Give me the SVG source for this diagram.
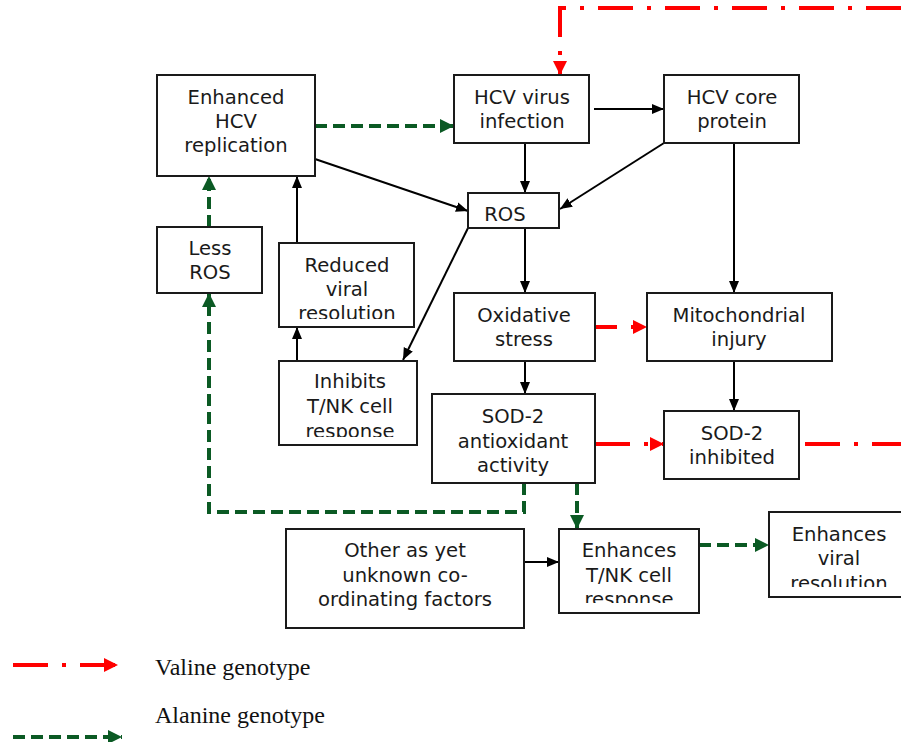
<svg xmlns="http://www.w3.org/2000/svg" width="901" height="742" viewBox="0 0 901 742">
<style>
.box{fill:#fff;stroke:#1a1a1a;stroke-width:2}
.t{font-family:"DejaVu Sans",Verdana,sans-serif;font-size:19.6px;fill:#1a1a1a;text-anchor:middle}
.lg{font-family:"Liberation Serif","Times New Roman",serif;font-size:24px;fill:#111}
.blk{stroke:#000;stroke-width:2;fill:none}
.red{stroke:#ff0000;stroke-width:4;fill:none;stroke-dasharray:35 14 4 14}
.grn{stroke:#0b5a24;stroke-width:4;fill:none;stroke-dasharray:12 6}
</style>
<defs>
<marker id="ab" markerUnits="userSpaceOnUse" markerWidth="12" markerHeight="12" refX="12" refY="6" orient="auto"><path d="M0,1 L12,6 L0,11 z" fill="#000"/></marker>
<marker id="ar" markerUnits="userSpaceOnUse" markerWidth="14" markerHeight="14" refX="14" refY="7" orient="auto"><path d="M0,0 L14,7 L0,14 z" fill="#ff0000"/></marker>
<marker id="ag" markerUnits="userSpaceOnUse" markerWidth="14" markerHeight="14" refX="14" refY="7" orient="auto"><path d="M0,0 L14,7 L0,14 z" fill="#0b5a24"/></marker>
<clipPath id="c1"><rect x="279" y="243" width="135" height="76"/></clipPath>
<clipPath id="c2"><rect x="279" y="361" width="138" height="76"/></clipPath>
<clipPath id="c3"><rect x="559" y="529" width="140" height="74"/></clipPath>
<clipPath id="c4"><rect x="769" y="512" width="132" height="75"/></clipPath>
</defs>

<g id="connectors">
<line class="blk" x1="594" y1="109" x2="664" y2="109" marker-end="url(#ab)"/>
<line class="blk" x1="525" y1="143" x2="525" y2="193" marker-end="url(#ab)"/>
<line class="blk" x1="664" y1="143" x2="560" y2="209" marker-end="url(#ab)"/>
<line class="blk" x1="315" y1="159" x2="468" y2="211" marker-end="url(#ab)"/>
<line class="blk" x1="525" y1="228" x2="525" y2="293" marker-end="url(#ab)"/>
<line class="blk" x1="468" y1="228" x2="403" y2="360" marker-end="url(#ab)"/>
<line class="blk" x1="297" y1="361" x2="297" y2="327" marker-end="url(#ab)"/>
<line class="blk" x1="297" y1="243" x2="297" y2="176" marker-end="url(#ab)"/>
<line class="blk" x1="525" y1="361" x2="525" y2="394" marker-end="url(#ab)"/>
<line class="blk" x1="734" y1="143" x2="734" y2="293" marker-end="url(#ab)"/>
<line class="blk" x1="734" y1="361" x2="734" y2="411" marker-end="url(#ab)"/>
<line class="blk" x1="524" y1="562" x2="559" y2="562" marker-end="url(#ab)"/>

<line class="grn" x1="315" y1="126" x2="454" y2="126" marker-end="url(#ag)"/>
<line class="grn" x1="209" y1="227" x2="209" y2="176" marker-end="url(#ag)"/>
<polyline class="grn" points="524,483 524,512 209,512 209,293" marker-end="url(#ag)"/>
<line class="grn" x1="577" y1="483" x2="577" y2="529" marker-end="url(#ag)"/>
<line class="grn" x1="699" y1="545" x2="769" y2="545" marker-end="url(#ag)"/>

<polyline class="red" points="901,8 560,8 560,75" marker-end="url(#ar)"/>
<line class="red" x1="595" y1="327" x2="647" y2="327" marker-end="url(#ar)" style="stroke-dasharray:22 14 4 14"/>
<line class="red" x1="595" y1="444" x2="664" y2="444" marker-end="url(#ar)"/>
<line class="red" x1="805" y1="444" x2="901" y2="444"/>
</g>

<g id="n_enhanced_hcv"><rect class="box" x="157" y="75" width="158" height="101"/>
<text class="t" x="236" y="104">Enhanced</text><text class="t" x="236" y="128">HCV</text><text class="t" x="236" y="152">replication</text></g>
<g id="n_hcv_virus"><rect class="box" x="454" y="75" width="135" height="68"/>
<text class="t" x="522" y="104">HCV virus</text><text class="t" x="522" y="128">infection</text></g>
<g id="n_hcv_core"><rect class="box" x="664" y="75" width="135" height="68"/>
<text class="t" x="732" y="104">HCV core</text><text class="t" x="732" y="128">protein</text></g>
<g id="n_ros"><rect class="box" x="468" y="193" width="91" height="35"/>
<text class="t" x="505" y="221">ROS</text></g>
<g id="n_less_ros"><rect class="box" x="157" y="227" width="105" height="66"/>
<text class="t" x="210" y="255">Less</text><text class="t" x="210" y="279">ROS</text></g>
<g id="n_reduced"><rect class="box" x="279" y="243" width="135" height="84"/>
<g clip-path="url(#c1)"><text class="t" x="347" y="272">Reduced</text><text class="t" x="347" y="296">viral</text><text class="t" x="347" y="320">resolution</text></g></g>
<g id="n_inhibits"><rect class="box" x="279" y="361" width="138" height="84"/>
<g clip-path="url(#c2)"><text class="t" x="350" y="388">Inhibits</text><text class="t" x="350" y="413">T/NK cell</text><text class="t" x="350" y="438">response</text></g></g>
<g id="n_oxidative"><rect class="box" x="454" y="293" width="141" height="68"/>
<text class="t" x="524" y="322">Oxidative</text><text class="t" x="524" y="346">stress</text></g>
<g id="n_sod2_act"><rect class="box" x="432" y="394" width="163" height="89"/>
<text class="t" x="513" y="423">SOD-2</text><text class="t" x="513" y="448">antioxidant</text><text class="t" x="513" y="472">activity</text></g>
<g id="n_mito"><rect class="box" x="647" y="293" width="185" height="68"/>
<text class="t" x="739" y="322">Mitochondrial</text><text class="t" x="739" y="346">injury</text></g>
<g id="n_sod2_inh"><rect class="box" x="664" y="411" width="135" height="68"/>
<text class="t" x="732" y="440">SOD-2</text><text class="t" x="732" y="464">inhibited</text></g>
<g id="n_other"><rect class="box" x="286" y="529" width="238" height="99"/>
<text class="t" x="405" y="557">Other as yet</text><text class="t" x="405" y="582">unknown co-</text><text class="t" x="405" y="606">ordinating factors</text></g>
<g id="n_enh_tnk"><rect class="box" x="559" y="529" width="140" height="84"/>
<g clip-path="url(#c3)"><text class="t" x="629" y="557">Enhances</text><text class="t" x="629" y="582">T/NK cell</text><text class="t" x="629" y="606">response</text></g></g>
<g id="n_enh_viral"><rect class="box" x="769" y="512" width="134" height="85"/>
<g clip-path="url(#c4)"><text class="t" x="839" y="541">Enhances</text><text class="t" x="839" y="565">viral</text><text class="t" x="839" y="590">resolution</text></g></g>

<g id="legend">
<line class="red" x1="13" y1="665" x2="118" y2="665" marker-end="url(#ar)"/>
<text class="lg" x="155" y="675">Valine genotype</text>
<line class="grn" x1="13" y1="737" x2="122" y2="737" marker-end="url(#ag)"/>
<text class="lg" x="155" y="723">Alanine genotype</text>
</g>
</svg>
